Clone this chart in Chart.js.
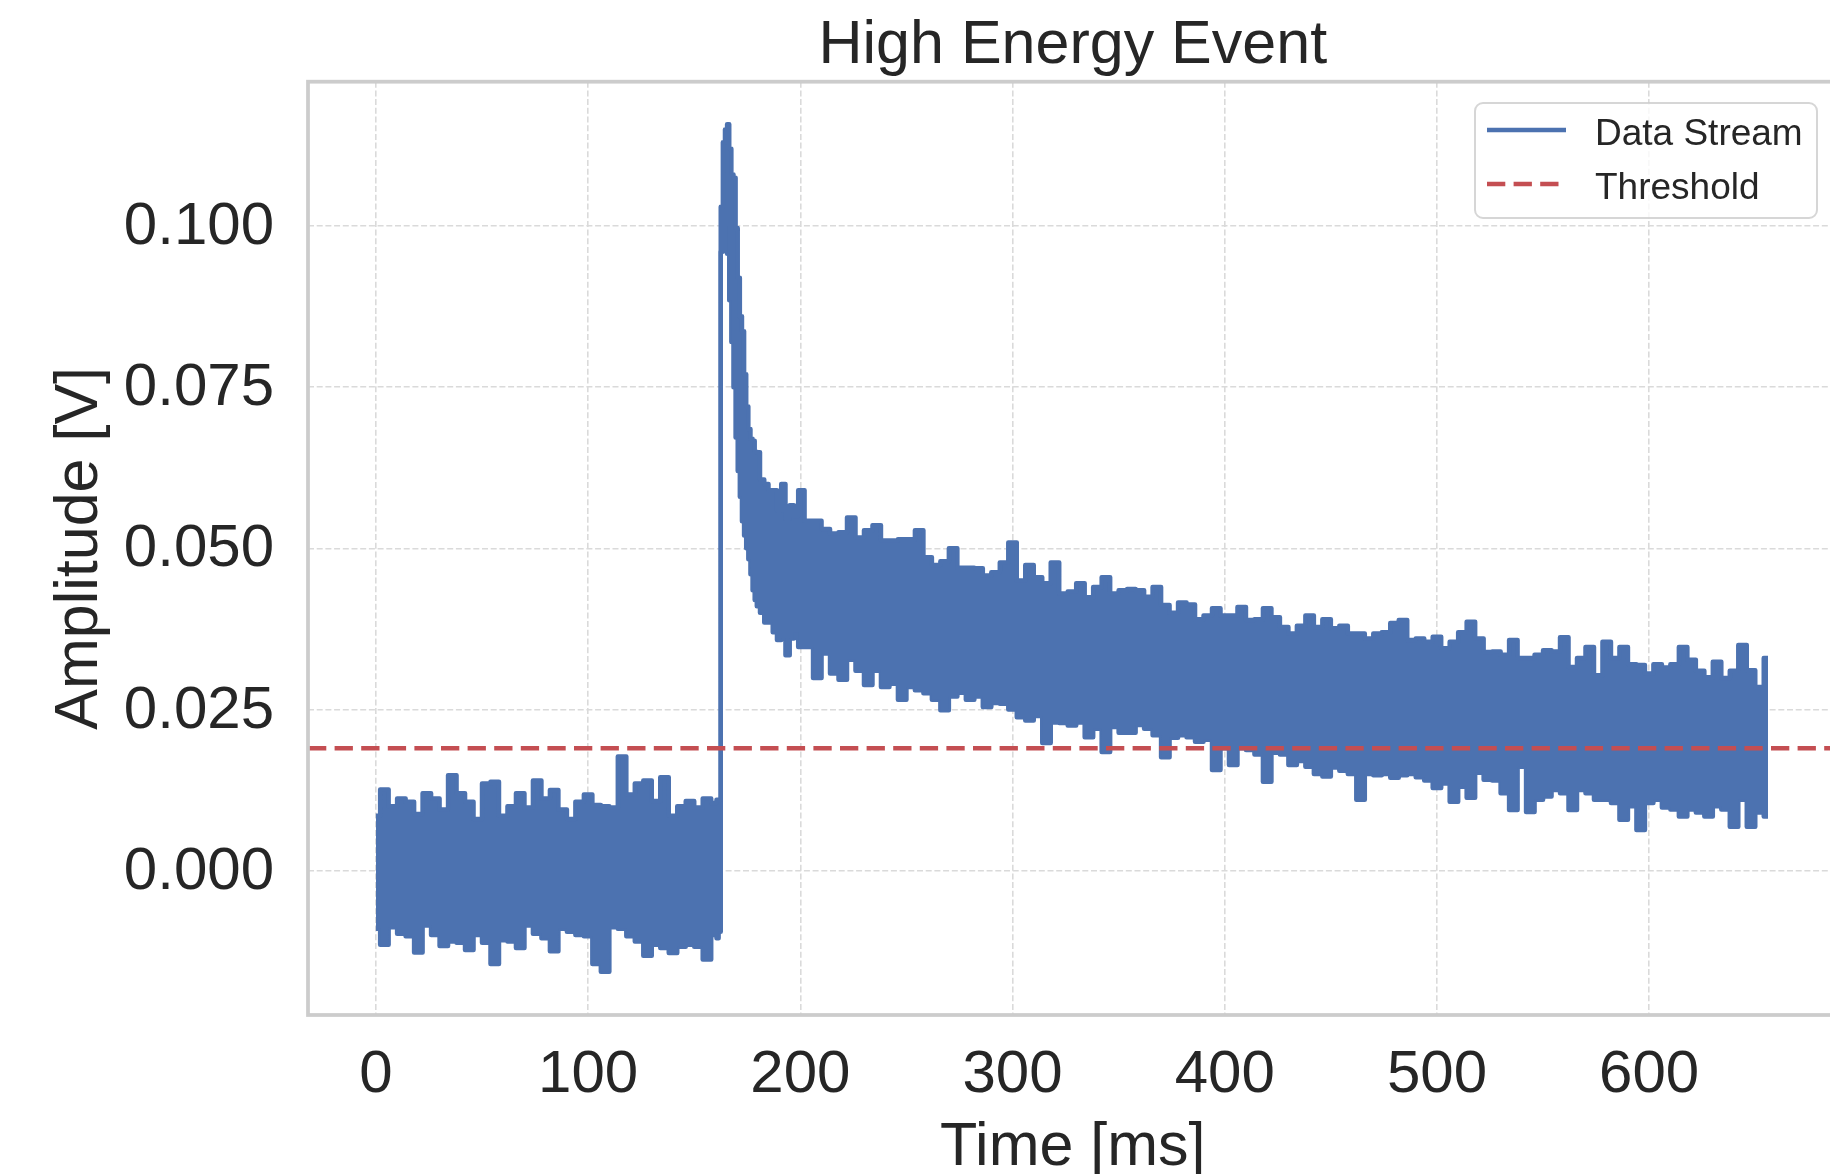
<!DOCTYPE html>
<html>
<head>
<meta charset="utf-8">
<script src="https://cdn.jsdelivr.net/npm/chart.js@4.4.1/dist/chart.umd.min.js"></script>
<style>
html,body{margin:0;padding:0;background:#fff;overflow:hidden;width:1830px;height:1174px}
#wrap{position:relative;width:1840px;height:1174px}
canvas{display:block}
</style>
</head>
<body>
<div id="wrap"><canvas id="c" width="1840" height="1174"></canvas></div>
<script>
// ---- data (time in ms, amplitude in V) ----
const times = [
  0,4,8,12,16,20,24,28,32,36,40,44,48,52,56,60,64,68,72,76,80,84,88,92,96,100,104,108,112,116,120,124,128,132,136,140,144,148,152,156,160,
  161,162,163,164,165,166,167,168,169,170,171,172,173,174,175,176,177,178,179,180,
  182,184,186,188,190,192,194,196,198,
  200,204,208,212,216,220,224,228,232,236,240,244,248,252,256,260,264,268,272,276,
  280,284,288,292,296,300,304,308,312,316,320,324,328,332,336,340,344,348,352,356,
  360,364,368,372,376,380,384,388,392,396,400,404,408,412,416,420,424,428,432,436,
  440,444,448,452,456,460,464,468,472,476,480,484,488,492,496,500,504,508,512,516,
  520,524,528,532,536,540,544,548,552,556,560,564,568,572,576,580,584,588,592,596,
  600,604,608,612,616,620,624,628,632,636,640,644,648,652,656
];
// upper edge of the noisy "Data Stream" trace
const upper = [
  0.0085,0.0126,0.0100,0.0112,0.0107,0.0088,0.0120,0.0112,0.0095,0.0148,
  0.0120,0.0107,0.0080,0.0135,0.0138,0.0085,0.0100,0.0120,0.0098,0.0140,
  0.0112,0.0125,0.0095,0.0080,0.0107,0.0118,0.0102,0.0100,0.0098,0.0177,
  0.0118,0.0135,0.0140,0.0108,0.0145,0.0085,0.0100,0.0108,0.0098,0.0112,
  0.0105,
  0.0110,0.0110,0.1030,0.1130,0.1150,0.1158,0.1120,0.1080,0.1075,0.0997,
  0.0920,0.0860,0.0837,0.0770,0.0720,0.0685,0.0670,0.0667,0.0650,0.0649,
  0.0607,0.0600,0.0590,0.0590,0.0559,0.0600,0.0546,0.0567,0.0550,
  0.0590,0.0543,0.0543,0.0530,0.0523,0.0525,0.0548,0.0517,0.0528,0.0536,
  0.0512,0.0512,0.0514,0.0514,0.0528,0.0486,0.0474,0.0480,0.0500,0.0470,
  0.0470,0.0469,0.0458,0.0463,0.0478,0.0509,0.0450,0.0474,0.0455,0.0446,
  0.0478,0.0430,0.0433,0.0446,0.0424,0.0440,0.0455,0.0430,0.0435,0.0437,
  0.0435,0.0425,0.0440,0.0412,0.0400,0.0416,0.0413,0.0390,0.0396,0.0407,
  0.0396,0.0396,0.0409,0.0389,0.0390,0.0407,0.0393,0.0378,0.0368,0.0380,
  0.0396,0.0378,0.0390,0.0376,0.0380,0.0368,0.0368,0.0360,0.0368,0.0370,
  0.0384,0.0389,0.0358,0.0360,0.0355,0.0363,0.0345,0.0355,0.0370,0.0386,
  0.0360,0.0339,0.0340,0.0335,0.0358,0.0330,0.0330,0.0335,0.0342,0.0340,
  0.0362,0.0316,0.0330,0.0347,0.0303,0.0355,0.0330,0.0347,0.0320,0.0319,
  0.0306,0.0320,0.0315,0.0320,0.0347,0.0327,0.0310,0.0300,0.0324,0.0299,
  0.0310,0.0350,0.0311,0.0285,0.0330
];
// lower edge of the noisy "Data Stream" trace
const lower = [
  -0.0090,-0.0115,-0.0088,-0.0098,-0.0102,-0.0127,-0.0085,-0.0100,-0.0117,-0.0110,
  -0.0112,-0.0123,-0.0100,-0.0112,-0.0145,-0.0108,-0.0110,-0.0120,-0.0085,-0.0098,
  -0.0105,-0.0125,-0.0090,-0.0095,-0.0100,-0.0102,-0.0145,-0.0157,-0.0088,-0.0090,
  -0.0102,-0.0110,-0.0132,-0.0115,-0.0120,-0.0128,-0.0118,-0.0115,-0.0118,-0.0138,
  -0.0100,
  -0.0105,-0.0095,0.0960,0.0980,0.1000,0.0957,0.0885,0.0820,0.0750,0.0672,
  0.0620,0.0580,0.0542,0.0520,0.0500,0.0483,0.0460,0.0435,0.0420,0.0410,
  0.0400,0.0385,0.0385,0.0370,0.0358,0.0360,0.0334,0.0360,0.0370,
  0.0347,0.0347,0.0299,0.0337,0.0306,0.0296,0.0327,0.0310,0.0288,0.0310,
  0.0285,0.0290,0.0265,0.0285,0.0280,0.0275,0.0265,0.0249,0.0270,0.0276,
  0.0265,0.0270,0.0254,0.0260,0.0259,0.0250,0.0238,0.0233,0.0240,0.0198,
  0.0230,0.0229,0.0225,0.0230,0.0207,0.0220,0.0184,0.0223,0.0214,0.0214,
  0.0226,0.0220,0.0210,0.0176,0.0206,0.0210,0.0207,0.0200,0.0203,0.0156,
  0.0190,0.0164,0.0190,0.0187,0.0180,0.0138,0.0183,0.0180,0.0164,0.0170,
  0.0161,0.0150,0.0146,0.0160,0.0155,0.0150,0.0110,0.0150,0.0148,0.0150,
  0.0144,0.0148,0.0150,0.0145,0.0140,0.0128,0.0135,0.0107,0.0130,0.0113,
  0.0152,0.0141,0.0140,0.0120,0.0094,0.0161,0.0091,0.0110,0.0115,0.0125,
  0.0120,0.0094,0.0125,0.0120,0.0110,0.0110,0.0105,0.0079,0.0100,0.0063,
  0.0105,0.0110,0.0098,0.0095,0.0084,0.0095,0.0090,0.0084,0.0100,0.0095,
  0.0068,0.0110,0.0068,0.0090,0.0084
];
const xLimits = [-32.0, 688.8];
const yLimits = [-0.0224, 0.1224];
const thresholdLevel = [0.019, 0.019];
const xTickValues = [0, 100, 200, 300, 400, 500, 600];
const yTickValues = [0.000, 0.025, 0.050, 0.075, 0.100];
const seriesLabels = ['Data Stream', 'Threshold'];
const chartTitle = 'High Energy Event';
const xTitle = 'Time [ms]';
const yTitle = 'Amplitude [V]';

// ---- styling ----
const FONT = '"Liberation Sans", Arial, Helvetica, sans-serif';
const TEXT = '#262626';
const BLUE = '#4c72b0';
const RED = '#c44e52';
const GRID = '#dadada';
Chart.defaults.font.family = FONT;
Chart.defaults.color = TEXT;

const framePlugin = {
  id: 'frame',
  afterDatasetsDraw(chart) {
    const {ctx, chartArea: a} = chart;
    ctx.save();
    ctx.strokeStyle = '#cccccc';
    ctx.lineWidth = 3.75;
    ctx.strokeRect(a.left, a.top, a.right - a.left, a.bottom - a.top);
    ctx.restore();
  }
};

const boxLegend = {
  id: 'boxLegend',
  afterDraw(chart) {
    const ctx = chart.ctx;
    const items = chart.data.datasets.filter(d => !d.hideInLegend);
    ctx.save();
    ctx.beginPath();
    ctx.roundRect(1475, 103, 342, 115, 8);
    ctx.fillStyle = 'rgba(255,255,255,0.8)';
    ctx.fill();
    ctx.strokeStyle = 'rgba(204,204,204,0.8)';
    ctx.lineWidth = 2;
    ctx.stroke();
    items.forEach((d, i) => {
      const y = 131 + i * 54;
      ctx.beginPath();
      ctx.setLineDash(d.borderDash || []);
      ctx.strokeStyle = d.borderColor;
      ctx.lineWidth = d.borderWidth;
      ctx.moveTo(1487, y - 1);
      ctx.lineTo(1566, y - 1);
      ctx.stroke();
      ctx.setLineDash([]);
      ctx.fillStyle = TEXT;
      ctx.font = '37px ' + FONT;
      ctx.textBaseline = 'middle';
      ctx.textAlign = 'left';
      ctx.fillText(d.label, 1595, y + 3.5);
    });
    ctx.restore();
  }
};

new Chart(document.getElementById('c'), {
  type: 'line',
  data: {
    datasets: [
      {
        label: seriesLabels[0],
        data: times.map((t, i) => ({x: t, y: upper[i]})),
        borderColor: BLUE, backgroundColor: BLUE, borderWidth: 4.5,
        pointRadius: 0, stepped: 'middle', fill: '+1', order: 1,
        borderJoinStyle: 'round'
      },
      {
        label: seriesLabels[0] + ' (lower)', hideInLegend: true,
        data: times.map((t, i) => ({x: t, y: lower[i]})),
        borderColor: BLUE, backgroundColor: BLUE, borderWidth: 4.5,
        pointRadius: 0, stepped: 'middle', fill: false, order: 1,
        borderJoinStyle: 'round'
      },
      {
        label: seriesLabels[1],
        data: xLimits.map((x, i) => ({x: x, y: thresholdLevel[i]})),
        borderColor: RED, backgroundColor: RED, borderWidth: 4.5,
        borderDash: [18.3, 8.3], pointRadius: 0, fill: false, order: 0
      }
    ]
  },
  options: {
    responsive: false,
    animation: false,
    devicePixelRatio: 1,
    layout: {padding: {top: 0, right: 2.4, bottom: 0, left: 0}},
    plugins: {
      legend: {display: false},
      tooltip: {enabled: false},
      title: {
        display: true, text: chartTitle, fullSize: false,
        font: {size: 61, weight: 'normal', family: FONT, lineHeight: 1.15}, color: TEXT,
        padding: {top: 11.4, bottom: 0.15}
      }
    },
    scales: {
      x: {
        type: 'linear', min: xLimits[0], max: xLimits[1],
        afterBuildTicks: s => { s.ticks = xTickValues.map(v => ({value: v})); },
        afterFit: s => { s.height = 159; },
        grid: {color: GRID, lineWidth: 1.6, drawTicks: false},
        border: {display: false, dash: [6, 2.7]},
        ticks: {font: {size: 60}, color: TEXT, padding: 24, maxRotation: 0, autoSkip: false,
                callback: v => String(v)},
        title: {display: true, text: xTitle, color: TEXT,
                font: {size: 61, lineHeight: 0.8}, padding: {top: 0, bottom: 1.6}}
      },
      y: {
        type: 'linear', min: yLimits[0], max: yLimits[1],
        afterBuildTicks: s => { s.ticks = yTickValues.map(v => ({value: v})); },
        afterFit: s => { s.width = 308; },
        grid: {color: GRID, lineWidth: 1.6, drawTicks: false},
        border: {display: false, dash: [6, 2.7]},
        ticks: {font: {size: 60}, color: TEXT, padding: 34, autoSkip: false, labelOffset: 1.5,
                callback: v => Number(v).toFixed(3)},
        title: {display: true, text: yTitle, color: TEXT,
                font: {size: 61}, padding: {top: 43.5, bottom: 0}}
      }
    }
  },
  plugins: [framePlugin, boxLegend]
});
</script>
</body>
</html>
